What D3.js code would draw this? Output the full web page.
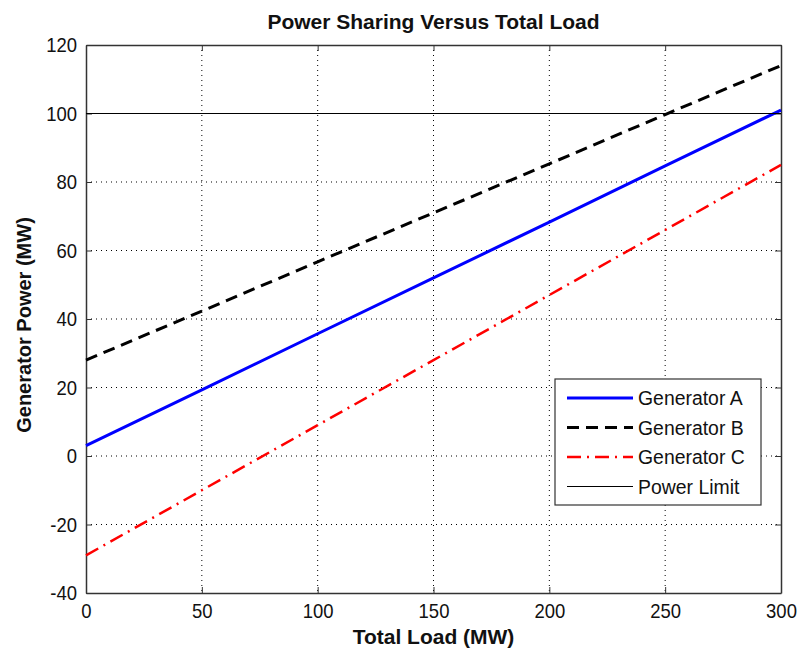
<!DOCTYPE html>
<html><head><meta charset="utf-8">
<script src="https://cdn.jsdelivr.net/npm/d3@7"></script>
<style>
body{margin:0;background:#fff;}
svg{display:block;}
</style></head><body>
<svg id="c" width="800" height="650"></svg>
<script>
const loads = [0, 50, 100, 150, 200, 250, 300];
const genA = [3, 19.3, 35.7, 52, 68.3, 84.7, 101];
const genB = [28, 42.3, 56.7, 71, 85.3, 99.7, 114];
const genC = [-29, -10, 9, 28, 47, 66, 85];
const powerLimit = [100, 100];
const limitLoads = [0, 300];
const xTicks = [0, 50, 100, 150, 200, 250, 300];
const yTicks = [-40, -20, 0, 20, 40, 60, 80, 100, 120];
const seriesNames = ["Generator A", "Generator B", "Generator C", "Power Limit"];

const svg = d3.select("#c");
const L = 86, R = 781, T = 45, B = 593;
const x = d3.scaleLinear().domain([0, 300]).range([L, R]);
const y = d3.scaleLinear().domain([-40, 120]).range([B, T]);
const font = "'Liberation Sans', Arial, sans-serif";

// grid
const g = svg.append("g");
g.selectAll("line.gx").data(xTicks.slice(1, -1)).enter().append("line")
  .attr("x1", d => x(d)).attr("x2", d => x(d)).attr("y1", T).attr("y2", B)
  .attr("stroke", "#000").attr("stroke-width", 1).attr("stroke-dasharray", "1,4");
g.selectAll("line.gy").data(yTicks.slice(1, -1).filter(d => d !== 100)).enter().append("line")
  .attr("x1", L).attr("x2", R).attr("y1", d => y(d)).attr("y2", d => y(d))
  .attr("stroke", "#000").attr("stroke-width", 1).attr("stroke-dasharray", "1,4");

// axes (inward ticks on all four sides)
const fmt = d => String(d);
const axB = d3.axisBottom(x).tickValues(xTicks).tickFormat(fmt).tickSizeInner(-6).tickSizeOuter(0).tickPadding(10);
const axL = d3.axisLeft(y).tickValues(yTicks).tickFormat(fmt).tickSizeInner(-6).tickSizeOuter(0).tickPadding(9);
const axT = d3.axisTop(x).tickValues(xTicks).tickSizeInner(-6).tickSizeOuter(0).tickFormat("");
const axR = d3.axisRight(y).tickValues(yTicks).tickSizeInner(-6).tickSizeOuter(0).tickFormat("");
function style(sel){
  sel.selectAll("path").attr("stroke", "#333").attr("stroke-width", 1.5);
  sel.selectAll("line").attr("stroke", "#333");
  sel.selectAll("text").attr("fill", "#111").style("font-family", font).style("font-size", "21px")
    .each(function(){
      const w = this.getComputedTextLength();
      if (w > 0) d3.select(this).attr("textLength", w * 0.88).attr("lengthAdjust", "spacingAndGlyphs");
    });
}
svg.append("g").attr("transform", `translate(0,${B})`).call(axB).call(style);
svg.append("g").attr("transform", `translate(${L},0)`).call(axL).call(style);
svg.append("g").attr("transform", `translate(0,${T})`).call(axT).call(style);
svg.append("g").attr("transform", `translate(${R},0)`).call(axR).call(style);

// lines
const line = d3.line().x(d => x(d[0])).y(d => y(d[1]));
const defs = [
  {name: seriesNames[0], xs: loads, ys: genA, color: "#0000ff", w: 3, dash: null},
  {name: seriesNames[1], xs: loads, ys: genB, color: "#000", w: 3, dash: "12,7"},
  {name: seriesNames[2], xs: loads, ys: genC, color: "#ff0000", w: 2.5, dash: "14,6,2,6"},
  {name: seriesNames[3], xs: limitLoads, ys: powerLimit, color: "#000", w: 1.2, dash: null}
];
defs.forEach(s => {
  svg.append("path").datum(s.xs.map((v, i) => [v, s.ys[i]]))
    .attr("d", line).attr("fill", "none").attr("stroke", s.color)
    .attr("stroke-width", s.w).attr("stroke-dasharray", s.dash);
});

// title and labels
svg.append("text").attr("x", (L + R) / 2).attr("y", 29).attr("text-anchor", "middle").attr("fill", "#111")
  .style("font-family", font).style("font-weight", "bold").style("font-size", "21px").text("Power Sharing Versus Total Load");
svg.append("text").attr("x", (L + R) / 2).attr("y", 644).attr("text-anchor", "middle").attr("fill", "#111")
  .style("font-family", font).style("font-weight", "bold").style("font-size", "21px").text("Total Load (MW)");
svg.append("text").attr("transform", `translate(31,${(T + B) / 2 + 6}) rotate(-90)`).attr("text-anchor", "middle").attr("fill", "#111")
  .style("font-family", font).style("font-weight", "bold").style("font-size", "20px").text("Generator Power (MW)");

// legend
const lg = svg.append("g").attr("transform", "translate(555,379)");
lg.append("rect").attr("width", 206).attr("height", 126).attr("fill", "#fff").attr("stroke", "#333").attr("stroke-width", 1.2);
defs.forEach((s, i) => {
  const yy = 19 + i * 29.5;
  lg.append("line").attr("x1", 12).attr("x2", 78).attr("y1", yy).attr("y2", yy)
    .attr("stroke", s.color).attr("stroke-width", s.w).attr("stroke-dasharray", s.dash);
  lg.append("text").attr("x", 83).attr("y", yy + 7)
    .style("font-family", font).style("font-size", "20px").attr("fill", "#111").text(s.name)
    .each(function(){
      const w = this.getComputedTextLength();
      d3.select(this).attr("textLength", w * 0.97).attr("lengthAdjust", "spacingAndGlyphs");
    });
});
</script>
</body></html>
